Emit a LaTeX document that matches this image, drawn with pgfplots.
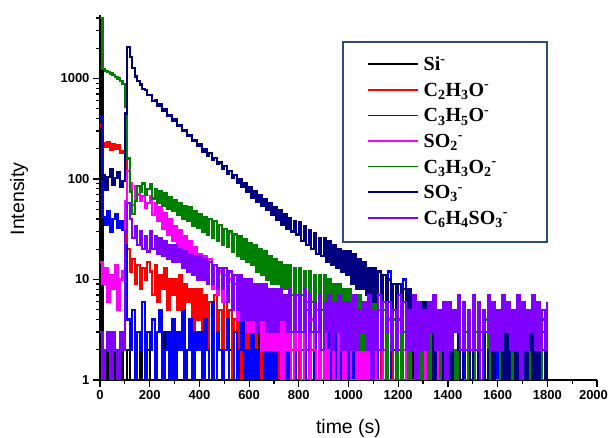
\documentclass[border=0pt]{standalone}
\usepackage{pgfplots}
\pgfplotsset{compat=1.18}
\usepackage{fontspec}
\setmainfont{Liberation Sans}
\newfontfamily\lfont{Liberation Serif}
\definecolor{cSi}{RGB}{0,0,0}
\definecolor{cCa}{RGB}{255,0,0}
\definecolor{cCb}{RGB}{0,0,255}
\definecolor{cSOa}{RGB}{255,0,255}
\definecolor{cCc}{RGB}{0,128,0}
\definecolor{cSOb}{RGB}{0,0,128}
\definecolor{cCd}{RGB}{128,0,255}
\definecolor{legbox}{RGB}{44,74,122}
\newcommand\legent[1]{\raisebox{0pt}[19.3pt][6.3pt]{#1}}
\begin{document}
\begin{tikzpicture}
\path[use as bounding box] (-100pt,-58pt) rectangle (510pt,380pt);
\begin{axis}[
  at={(0pt,0pt)}, anchor=south west,
  scale only axis, width=497pt, height=365pt,
  xmin=0, xmax=2000, ymode=log, ymin=1, ymax=4285,
  axis x line*=bottom, axis y line*=left,
  axis line style={line width=1.3pt},
  tick align=outside,
  every tick/.style={black, line width=1.2pt},
  major tick length=7pt, minor tick length=4pt,
  xtick={0,200,...,2000},
  xticklabels={0,200,400,600,800,1000,1200,1400,1600,1800,\hspace{-7pt}2000},
  minor xtick={100,300,...,1900},
  ytick={1,10,100,1000}, yticklabels={1,10,100,1000},
  minor ytick={2,3,4,5,6,7,8,9,20,30,40,50,60,70,80,90,200,300,400,500,600,700,800,900,2000,3000,4000},
  ticklabel style={font=\bfseries\fontsize{13}{14}\selectfont},
  xlabel={time (s)}, ylabel={Intensity},
  label style={font=\fontsize{19.5}{20}\selectfont},
  xlabel style={at={(axis description cs:0.5,-0.1315)}, anchor=center},
  ylabel style={at={(axis description cs:-0.163,0.496)}, anchor=center},
  every axis plot/.append style={const plot, line width=2.3pt},
  legend image code/.code={\draw[#1, line width=1.5pt] (0pt,0pt) -- (50pt,0pt);},
  legend cell align=left,
  legend style={at={(axis description cs:0.5372,0.9008)}, anchor=north west,
    draw=none, fill=none, inner sep=0pt, column sep=5pt, row sep=0pt,
    nodes={inner sep=0pt, text depth=},
    font=\lfont\bfseries\fontsize{20}{20}\selectfont},
]
% Si-
\addplot[cSi] table[header=false,row sep=\\,x expr=\coordindex*10,y index=0]{
2400\\2\\1\\3\\1\\2\\1\\1\\2\\1\\
1\\2\\1\\1\\3\\1\\2\\1\\1\\2\\
1\\1\\2\\1\\1\\3\\1\\1\\2\\1\\
2\\1\\1\\1\\2\\1\\1\\3\\1\\1\\
1\\2\\1\\1\\1\\2\\1\\1\\1\\3\\
1\\1\\2\\1\\1\\1\\2\\1\\1\\1\\
2\\1\\1\\3\\1\\1\\1\\2\\1\\1\\
1\\1\\2\\1\\1\\2\\1\\1\\1\\2\\
1\\3\\1\\1\\2\\1\\1\\1\\2\\1\\
1\\1\\1\\2\\1\\1\\3\\1\\1\\1\\
2\\1\\1\\1\\2\\1\\1\\2\\1\\1\\
1\\2\\1\\1\\1\\3\\1\\1\\2\\1\\
1\\1\\2\\1\\1\\1\\2\\1\\1\\3\\
1\\2\\1\\1\\2\\1\\1\\1\\2\\1\\
3\\1\\1\\2\\1\\1\\2\\1\\1\\1\\
1\\1\\2\\1\\3\\1\\1\\2\\1\\1\\
2\\1\\1\\1\\2\\1\\3\\1\\1\\2\\
1\\1\\2\\1\\1\\2\\1\\1\\3\\1\\
2\\
};
\addlegendentry{\legent{Si\textsuperscript{-}}}
% C2H3O-
\addplot[cCa] table[header=false,row sep=\\,x expr=\coordindex*10,y index=0]{
340\\230\\210\\235\\195\\220\\200\\215\\180\\190\\
150\\20\\12\\16\\9\\14\\8\\13\\10\\15\\
12\\7\\14\\6\\11\\8\\13\\5\\10\\7\\
10\\5\\11\\4\\9\\6\\8\\3\\8\\4\\
8\\3\\7\\2\\6\\4\\7\\2\\5\\1\\
6\\2\\5\\1\\4\\2\\5\\1\\3\\2\\
4\\1\\3\\2\\1\\4\\1\\2\\3\\1\\
3\\1\\2\\1\\3\\1\\1\\2\\3\\1\\
2\\1\\3\\1\\1\\2\\1\\3\\1\\2\\
1\\3\\1\\2\\1\\1\\3\\1\\2\\1\\
2\\1\\1\\3\\2\\3\\2\\3\\2\\1\\
1\\1\\2\\1\\1\\1\\1\\2\\1\\1\\
1\\2\\1\\1\\1\\1\\1\\1\\2\\1\\
1\\1\\1\\1\\2\\1\\1\\1\\1\\1\\
2\\1\\1\\1\\1\\1\\2\\1\\1\\1\\
1\\1\\1\\2\\1\\1\\1\\1\\1\\2\\
1\\1\\1\\1\\1\\2\\1\\1\\1\\1\\
1\\2\\1\\1\\1\\1\\1\\1\\2\\1\\
1\\
};
\addlegendentry{\legent{C\textsubscript{2}H\textsubscript{3}O\textsuperscript{-}}}
% C3H5O-
\addplot[cCb] table[header=false,row sep=\\,x expr=\coordindex*10,y index=0]{
420\\42\\35\\48\\30\\40\\45\\33\\38\\31\\
22\\4\\2\\5\\1\\3\\2\\6\\1\\3\\
2\\4\\1\\3\\5\\1\\2\\3\\1\\4\\
1\\3\\2\\5\\1\\2\\4\\1\\3\\2\\
3\\1\\4\\2\\1\\6\\1\\3\\2\\1\\
2\\4\\1\\1\\3\\1\\2\\5\\1\\2\\
1\\3\\1\\2\\1\\1\\4\\1\\2\\1\\
3\\1\\1\\2\\1\\5\\1\\1\\2\\1\\
1\\2\\1\\5\\1\\1\\3\\1\\1\\2\\
1\\1\\3\\1\\4\\1\\2\\1\\1\\3\\
1\\2\\1\\3\\1\\1\\2\\1\\11\\1\\
1\\9\\1\\1\\2\\1\\12\\1\\1\\1\\
2\\1\\10\\1\\1\\1\\1\\2\\1\\1\\
1\\1\\4\\1\\1\\2\\1\\1\\1\\3\\
1\\2\\1\\1\\1\\1\\3\\1\\2\\1\\
1\\1\\2\\1\\3\\1\\1\\1\\2\\1\\
2\\1\\1\\1\\1\\3\\1\\1\\1\\2\\
1\\1\\3\\1\\1\\1\\2\\1\\1\\1\\
1\\
};
\addlegendentry{\legent{C\textsubscript{3}H\textsubscript{5}O\textsuperscript{-}}}
% SO2-
\addplot[cSOa] table[header=false,row sep=\\,x expr=\coordindex*10,y index=0]{
15\\9\\13\\6\\11\\8\\14\\5\\10\\12\\
60\\120\\90\\55\\85\\70\\60\\68\\52\\58\\
68\\44\\58\\38\\52\\32\\46\\28\\40\\24\\
34\\21\\31\\18\\27\\15\\24\\13\\21\\12\\
18\\10\\17\\9\\16\\8\\14\\7\\12\\6\\
11\\6\\10\\5\\9\\4\\9\\4\\8\\3\\
8\\3\\7\\3\\7\\2\\6\\2\\6\\2\\
6\\2\\5\\1\\5\\2\\4\\1\\4\\2\\
5\\1\\4\\2\\1\\4\\2\\1\\3\\1\\
4\\1\\2\\3\\1\\1\\3\\2\\1\\2\\
3\\1\\1\\2\\1\\3\\1\\2\\1\\1\\
2\\1\\1\\1\\2\\1\\1\\1\\1\\2\\
1\\1\\2\\1\\1\\1\\1\\2\\1\\1\\
1\\2\\1\\1\\1\\1\\2\\1\\1\\1\\
1\\1\\1\\2\\1\\1\\1\\1\\1\\2\\
1\\1\\2\\1\\1\\1\\1\\1\\2\\1\\
1\\1\\1\\1\\2\\1\\1\\1\\1\\1\\
2\\1\\1\\1\\1\\1\\2\\1\\1\\1\\
1\\
};
\addlegendentry{\legent{SO\textsubscript{2}\textsuperscript{-}}}
% C3H3O2-
\addplot[cCc] table[header=false,row sep=\\,x expr=\coordindex*10,y index=0]{
4000\\1250\\1180\\1160\\1120\\1080\\1040\\1000\\950\\880\\
520\\160\\75\\45\\60\\85\\75\\90\\70\\80\\
88\\64\\80\\58\\76\\54\\72\\50\\66\\48\\
62\\44\\58\\40\\54\\38\\52\\34\\48\\33\\
45\\30\\42\\28\\40\\26\\38\\24\\35\\22\\
32\\21\\30\\19\\28\\17\\27\\16\\25\\15\\
23\\14\\22\\12\\20\\11\\19\\10\\17\\9\\
16\\9\\15\\8\\14\\8\\14\\7\\13\\7\\
13\\7\\12\\6\\12\\6\\11\\5\\11\\5\\
11\\5\\10\\4\\9\\4\\9\\3\\8\\3\\
8\\3\\7\\3\\7\\2\\6\\2\\6\\2\\
6\\2\\5\\2\\5\\1\\4\\2\\4\\1\\
4\\1\\3\\2\\1\\4\\2\\1\\3\\1\\
2\\3\\1\\4\\1\\2\\3\\1\\2\\1\\
3\\1\\2\\1\\4\\1\\2\\3\\1\\2\\
1\\3\\2\\1\\2\\4\\1\\2\\1\\3\\
2\\1\\3\\1\\2\\1\\4\\1\\2\\1\\
3\\1\\2\\1\\3\\2\\1\\4\\1\\2\\
1\\
};
\addlegendentry{\legent{C\textsubscript{3}H\textsubscript{3}O\textsubscript{2}\textsuperscript{-}}}
% SO3-
\addplot[cSOb] table[header=false,row sep=\\,x expr=\coordindex*10,y index=0]{
98\\110\\78\\105\\125\\88\\102\\118\\84\\96\\
450\\2050\\1650\\1280\\1050\\940\\870\\790\\770\\680\\
690\\600\\615\\535\\550\\475\\490\\425\\435\\380\\
390\\335\\345\\300\\305\\268\\275\\238\\245\\212\\
222\\188\\198\\170\\180\\154\\162\\140\\146\\126\\
135\\112\\121\\102\\110\\92\\99\\83\\90\\75\\
83\\65\\76\\59\\69\\54\\63\\49\\57\\44\\
52\\39\\49\\35\\45\\32\\41\\30\\38\\28\\
37\\24\\34\\22\\31\\20\\29\\18\\26\\17\\
26\\15\\24\\14\\22\\13\\20\\12\\19\\11\\
19\\9\\18\\8\\16\\8\\15\\7\\13\\6\\
13\\6\\12\\5\\11\\5\\10\\4\\9\\4\\
9\\4\\8\\3\\8\\3\\7\\3\\6\\2\\
6\\2\\5\\3\\1\\5\\2\\4\\1\\3\\
5\\1\\3\\4\\2\\1\\5\\2\\3\\1\\
4\\2\\1\\3\\5\\1\\2\\4\\1\\3\\
2\\5\\1\\3\\1\\4\\2\\1\\3\\2\\
4\\1\\2\\5\\1\\3\\1\\2\\4\\1\\
2\\
};
\addlegendentry{\legent{SO\textsubscript{3}\textsuperscript{-}}}
% C6H4SO3-
\addplot[cCd] table[header=false,row sep=\\,x expr=\coordindex*10,y index=0]{
3\\1\\2\\3\\1\\3\\2\\1\\3\\2\\
30\\58\\40\\26\\34\\22\\30\\20\\27\\19\\
30\\20\\27\\18\\26\\17\\24\\16\\22\\15\\
22\\15\\20\\13\\19\\12\\18\\11\\17\\10\\
17\\10\\16\\9\\15\\9\\14\\8\\13\\8\\
13\\6\\12\\5\\11\\5\\11\\4\\10\\4\\
10\\4\\9\\3\\9\\4\\9\\3\\8\\3\\
8\\3\\8\\4\\7\\3\\8\\3\\7\\3\\
7\\3\\8\\2\\7\\3\\6\\3\\7\\2\\
6\\3\\7\\2\\6\\3\\7\\2\\6\\2\\
6\\2\\7\\2\\5\\3\\6\\2\\7\\1\\
5\\2\\7\\2\\6\\3\\6\\2\\5\\2\\
7\\3\\6\\2\\5\\2\\7\\1\\6\\2\\
5\\2\\6\\3\\7\\2\\5\\2\\6\\1\\
6\\2\\5\\3\\7\\2\\6\\2\\5\\2\\
7\\2\\6\\1\\5\\3\\7\\2\\6\\2\\
5\\2\\7\\3\\6\\2\\5\\2\\7\\1\\
6\\2\\5\\3\\7\\2\\6\\2\\5\\2\\
6\\
};
\addlegendentry{\legent{C\textsubscript{6}H\textsubscript{4}SO\textsubscript{3}\textsuperscript{-}}}
\draw[legbox, line width=2pt] (axis description cs:0.489,0.926) rectangle (axis description cs:0.899,0.378);
\end{axis}
\end{tikzpicture}
\end{document}
